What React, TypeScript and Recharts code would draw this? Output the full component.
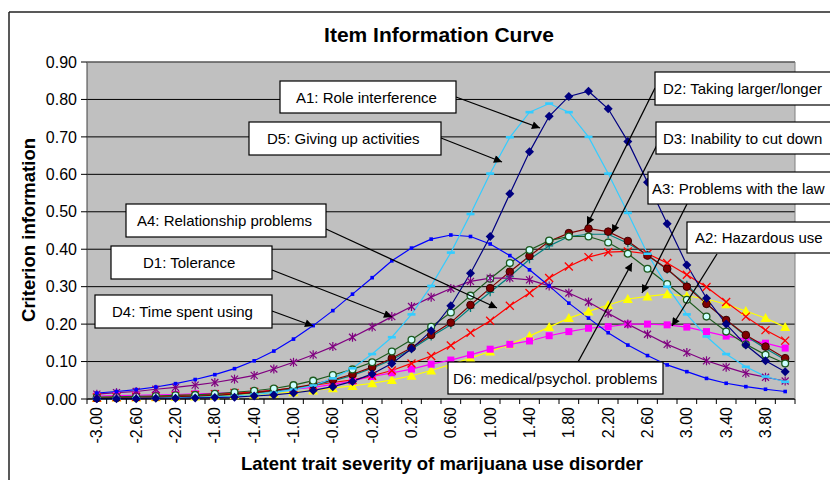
import React from "react";
import { LineChart, Line, XAxis, YAxis, CartesianGrid } from "recharts";

const FONT = "'Liberation Sans', Arial, Helvetica, sans-serif";

// latent trait categories (-3.0 .. 4.0, step 0.2)
const severity = [
  -3.0, -2.8, -2.6, -2.4, -2.2, -2.0, -1.8, -1.6, -1.4, -1.2, -1.0, -0.8,
  -0.6, -0.4, -0.2, 0.0, 0.2, 0.4, 0.6, 0.8, 1.0, 1.2, 1.4, 1.6,
  1.8, 2.0, 2.2, 2.4, 2.6, 2.8, 3.0, 3.2, 3.4, 3.6, 3.8, 4.0,
];

const yTicks = [0, 0.1, 0.2, 0.3, 0.4, 0.5, 0.6, 0.7, 0.8, 0.9];

// criterion information per item
const a1RoleInterference = [
  0.001, 0.001, 0.001, 0.002, 0.002, 0.003, 0.004, 0.005, 0.008, 0.011, 0.016, 0.023,
  0.033, 0.047, 0.067, 0.095, 0.134, 0.182, 0.249, 0.336, 0.434, 0.548, 0.66, 0.755,
  0.808, 0.822, 0.775, 0.688, 0.579, 0.468, 0.358, 0.269, 0.2, 0.144, 0.102, 0.073,
];
const d5GivingUp = [
  0.001, 0.001, 0.002, 0.002, 0.003, 0.004, 0.006, 0.008, 0.012, 0.017, 0.025, 0.036,
  0.055, 0.082, 0.12, 0.165, 0.226, 0.302, 0.391, 0.494, 0.602, 0.699, 0.766, 0.789,
  0.766, 0.7, 0.602, 0.497, 0.388, 0.3, 0.226, 0.167, 0.12, 0.086, 0.06, 0.046,
];
const d4TimeSpent = [
  0.016, 0.02, 0.025, 0.032, 0.041, 0.052, 0.065, 0.081, 0.102, 0.128, 0.16, 0.196,
  0.236, 0.28, 0.324, 0.369, 0.403, 0.427, 0.438, 0.434, 0.414, 0.383, 0.345, 0.302,
  0.256, 0.216, 0.177, 0.144, 0.116, 0.091, 0.073, 0.055, 0.042, 0.033, 0.026, 0.02,
];
const d1Tolerance = [
  0.013, 0.017, 0.02, 0.026, 0.031, 0.037, 0.044, 0.053, 0.063, 0.08, 0.098, 0.118,
  0.14, 0.165, 0.192, 0.22, 0.247, 0.272, 0.295, 0.314, 0.323, 0.323, 0.318, 0.302,
  0.283, 0.259, 0.229, 0.2, 0.173, 0.146, 0.124, 0.102, 0.085, 0.069, 0.058, 0.048,
];
const a4Relationship = [
  0.004, 0.005, 0.006, 0.007, 0.009, 0.011, 0.013, 0.016, 0.019, 0.023, 0.029, 0.036,
  0.044, 0.051, 0.062, 0.076, 0.095, 0.115, 0.143, 0.177, 0.209, 0.249, 0.283, 0.323,
  0.354, 0.379, 0.392, 0.394, 0.388, 0.363, 0.332, 0.299, 0.259, 0.22, 0.184, 0.156,
];
const a3Law = [
  0.003, 0.004, 0.004, 0.005, 0.006, 0.007, 0.009, 0.01, 0.012, 0.015, 0.018, 0.023,
  0.029, 0.035, 0.042, 0.051, 0.062, 0.076, 0.092, 0.109, 0.127, 0.146, 0.168, 0.192,
  0.216, 0.234, 0.251, 0.267, 0.274, 0.28, 0.275, 0.267, 0.253, 0.235, 0.216, 0.192,
];
const a2Hazardous = [
  0.008, 0.009, 0.01, 0.011, 0.012, 0.014, 0.015, 0.017, 0.019, 0.022, 0.026, 0.031,
  0.039, 0.048, 0.06, 0.07, 0.08, 0.093, 0.104, 0.118, 0.133, 0.146, 0.155, 0.169,
  0.18, 0.189, 0.193, 0.2, 0.2, 0.198, 0.192, 0.18, 0.168, 0.16, 0.149, 0.136,
];
const d2Larger = [
  0.002, 0.003, 0.004, 0.005, 0.006, 0.008, 0.01, 0.013, 0.017, 0.023, 0.03, 0.039,
  0.051, 0.066, 0.085, 0.109, 0.137, 0.171, 0.204, 0.251, 0.296, 0.34, 0.382, 0.421,
  0.443, 0.455, 0.447, 0.422, 0.383, 0.348, 0.3, 0.254, 0.211, 0.171, 0.14, 0.109,
];
const d3CutDown = [
  0.002, 0.003, 0.003, 0.004, 0.005, 0.007, 0.009, 0.012, 0.016, 0.021, 0.028, 0.037,
  0.048, 0.063, 0.082, 0.105, 0.133, 0.167, 0.198, 0.243, 0.285, 0.327, 0.373, 0.409,
  0.434, 0.44, 0.44, 0.416, 0.385, 0.345, 0.305, 0.254, 0.211, 0.168, 0.135, 0.105,
];
const d6Medical = [
  0.005, 0.006, 0.007, 0.008, 0.01, 0.011, 0.014, 0.018, 0.022, 0.028, 0.037, 0.049,
  0.064, 0.079, 0.098, 0.127, 0.158, 0.193, 0.231, 0.276, 0.321, 0.363, 0.398, 0.423,
  0.434, 0.434, 0.418, 0.388, 0.348, 0.307, 0.265, 0.22, 0.18, 0.146, 0.118, 0.095,
];

const data = severity.map((s, i) => ({
  x: s.toFixed(2),
  A1: a1RoleInterference[i],
  D5: d5GivingUp[i],
  D4: d4TimeSpent[i],
  D1: d1Tolerance[i],
  A4: a4Relationship[i],
  A3: a3Law[i],
  A2: a2Hazardous[i],
  D2: d2Larger[i],
  D3: d3CutDown[i],
  D6: d6Medical[i],
}));

// drawing order: first is bottom
const series = [
  { key: "A3", color: "#FFFF00", marker: "triangle" },
  { key: "A2", color: "#FF00FF", marker: "square" },
  { key: "A4", color: "#FF0000", marker: "x" },
  { key: "D3", color: "#008080", marker: "plus" },
  { key: "D2", color: "#800000", marker: "circle" },
  { key: "D6", color: "#1E5A1E", marker: "opencircle" },
  { key: "D1", color: "#800080", marker: "star" },
  { key: "D4", color: "#0000FF", marker: "smallsq" },
  { key: "D5", color: "#33CCFF", marker: "dash" },
  { key: "A1", color: "#000080", marker: "diamond" },
];

const notes = [
  { text: "A1: Role interference", box: [280, 81, 176, 32], tx: 296, from: [456, 97], to: [540, 128] },
  { text: "D5: Giving up activities", box: [249, 122, 192, 33], tx: 267, from: [441, 138], to: [502, 162] },
  { text: "A4: Relationship problems", box: [126, 204, 200, 33], tx: 137, from: [326, 229], to: [497, 308] },
  { text: "D1: Tolerance", box: [111, 246, 161, 33], tx: 143, from: [272, 270], to: [392, 317] },
  { text: "D4: Time spent using", box: [95, 295, 177, 33], tx: 112, from: [272, 311], to: [313, 326] },
  { text: "D2: Taking larger/longer", box: [655, 72, 185, 33], tx: 663, from: [655, 88], to: [587, 225] },
  { text: "D3: Inability to cut down", box: [656, 122, 185, 32], tx: 663, from: [657, 145], to: [612, 233] },
  { text: "A3: Problems with the law", box: [648, 172, 190, 32], tx: 652, from: [687, 204], to: [642, 293] },
  { text: "A2: Hazardous use", box: [687, 222, 150, 31], tx: 695, from: [717, 254], to: [672, 326] },
  { text: "D6: medical/psychol. problems", box: [448, 362, 215, 32], tx: 453, from: [578, 362], to: [632, 263] },
];

const W = 830;
const H = 480;
const M = { top: 62, right: 35, bottom: 0, left: 0 };
const Y_AXIS_W = 87;
const X_AXIS_H = 81;
const PLOT_L = M.left + Y_AXIS_W;
const PLOT_R = W - M.right;
const PLOT_T = M.top;
const PLOT_B = H - M.bottom - X_AXIS_H;
const BAND = (PLOT_R - PLOT_L) / severity.length;

const Marker = ({ cx, cy, shape, color }: any) => {
  if (cx == null || cy == null) return <g />;
  switch (shape) {
    case "diamond":
      return <polygon points={`${cx},${cy - 4.5} ${cx + 4.5},${cy} ${cx},${cy + 4.5} ${cx - 4.5},${cy}`} fill={color} />;
    case "dash":
      return <rect x={cx - 4} y={cy - 1.3} width={8} height={2.6} fill={color} />;
    case "smallsq":
      return <rect x={cx - 1.8} y={cy - 1.8} width={3.6} height={3.6} fill={color} />;
    case "star":
      return (
        <g stroke={color} strokeWidth={1.2}>
          <line x1={cx - 3.5} y1={cy - 3.5} x2={cx + 3.5} y2={cy + 3.5} />
          <line x1={cx - 3.5} y1={cy + 3.5} x2={cx + 3.5} y2={cy - 3.5} />
          <line x1={cx} y1={cy - 4.5} x2={cx} y2={cy + 4.5} />
        </g>
      );
    case "x":
      return (
        <g stroke={color} strokeWidth={1.3}>
          <line x1={cx - 4} y1={cy - 4} x2={cx + 4} y2={cy + 4} />
          <line x1={cx - 4} y1={cy + 4} x2={cx + 4} y2={cy - 4} />
        </g>
      );
    case "triangle":
      return <polygon points={`${cx},${cy - 5} ${cx + 5},${cy + 4} ${cx - 5},${cy + 4}`} fill={color} />;
    case "square":
      return <rect x={cx - 3.5} y={cy - 3.5} width={7} height={7} fill={color} />;
    case "circle":
      return <circle cx={cx} cy={cy} r={3.8} fill={color} stroke="#3A0000" strokeWidth={1} />;
    case "opencircle":
      return <circle cx={cx} cy={cy} r={3.4} fill="#CCFFFF" stroke={color} strokeWidth={1.3} />;
    case "plus":
      return (
        <g stroke={color} strokeWidth={1.3}>
          <line x1={cx - 4} y1={cy} x2={cx + 4} y2={cy} />
          <line x1={cx} y1={cy - 4} x2={cx} y2={cy + 4} />
        </g>
      );
    default:
      return <g />;
  }
};

const XTick = (props: any) => {
  const { payload } = props;
  const cx = payload?.coordinate ?? props.x;
  const i = props.index ?? payload?.index ?? 0;
  const left = cx - BAND / 2;
  return (
    <g>
      <line x1={left} y1={PLOT_B} x2={left} y2={PLOT_B + 5} stroke="#000" />
      {i === severity.length - 1 && (
        <line x1={cx + BAND / 2} y1={PLOT_B} x2={cx + BAND / 2} y2={PLOT_B + 5} stroke="#000" />
      )}
      {i % 2 === 0 && (
        <text
          x={cx}
          y={PLOT_B + 8}
          transform={`rotate(-90, ${cx}, ${PLOT_B + 8})`}
          textAnchor="end"
          dominantBaseline="central"
          fontSize={16}
          fontFamily={FONT}
          fill="#000"
        >
          {payload.value}
        </text>
      )}
    </g>
  );
};

export default function App() {
  return (
    <div style={{ position: "absolute", left: 0, top: 0, width: W, height: H, background: "#fff" }}>
      <LineChart width={W} height={H} data={data} margin={M} style={{ fontFamily: FONT }}>
        <CartesianGrid vertical={false} stroke="#000" fill="#C0C0C0" />
        <XAxis
          dataKey="x"
          type="category"
          interval={0}
          height={X_AXIS_H}
          padding={{ left: BAND / 2, right: BAND / 2 }}
          tickLine={false}
          tickSize={0}
          tickMargin={0}
          axisLine={{ stroke: "#000" }}
          tick={<XTick />}
        />
        <YAxis
          width={Y_AXIS_W}
          domain={[0, 0.9]}
          ticks={yTicks}
          tickFormatter={(v: number) => v.toFixed(2)}
          tickSize={6}
          tickMargin={4}
          tickLine={{ stroke: "#000" }}
          axisLine={{ stroke: "#404040" }}
          tick={{ fontSize: 16, fill: "#000", fontFamily: FONT }}
        />
        {series.map((s) => (
          <Line
            key={s.key}
            type="linear"
            dataKey={s.key}
            stroke={s.color}
            strokeWidth={1.2}
            isAnimationActive={false}
            activeDot={false}
            dot={(p: any) => <Marker key={`${s.key}-${p.index}`} cx={p.cx} cy={p.cy} shape={s.marker} color={s.color} />}
          />
        ))}
      </LineChart>

      <svg width={W} height={H} style={{ position: "absolute", left: 0, top: 0, pointerEvents: "none" }}>
        <defs>
          <marker id="head" viewBox="0 0 10 10" refX="10" refY="5" markerWidth="10" markerHeight="8" markerUnits="userSpaceOnUse" orient="auto">
            <path d="M0,0 L10,5 L0,10 z" fill="#000" />
          </marker>
        </defs>
        {/* chart frame */}
        <line x1={9} y1={12} x2={W} y2={12} stroke="#222" strokeWidth={1.5} />
        <line x1={9} y1={12} x2={9} y2={H} stroke="#222" strokeWidth={1.5} />
        {/* plot border top / right */}
        <line x1={PLOT_L} y1={PLOT_T} x2={PLOT_R} y2={PLOT_T} stroke="#808080" />
        <line x1={PLOT_R} y1={PLOT_T} x2={PLOT_R} y2={PLOT_B} stroke="#808080" />

        <text x={439} y={41.5} textAnchor="middle" fontSize={21} fontWeight="bold" fontFamily={FONT}>
          Item Information Curve
        </text>
        <text x={442} y={470} textAnchor="middle" fontSize={18.5} fontWeight="bold" fontFamily={FONT}>
          Latent trait severity of marijuana use disorder
        </text>
        <text
          x={28}
          y={230}
          transform="rotate(-90, 28, 230)"
          textAnchor="middle"
          dominantBaseline="central"
          fontSize={18.5}
          fontWeight="bold"
          fontFamily={FONT}
        >
          Criterion information
        </text>

        {notes.map((n) => (
          <g key={n.text}>
            <line x1={n.from[0]} y1={n.from[1]} x2={n.to[0]} y2={n.to[1]} stroke="#000" strokeWidth={1.3} markerEnd="url(#head)" />
          </g>
        ))}
        {notes.map((n) => (
          <g key={n.text + "-box"}>
            <rect x={n.box[0]} y={n.box[1]} width={n.box[2]} height={n.box[3]} fill="#fff" stroke="#000" strokeWidth={1.2} />
            <text x={n.tx} y={n.box[1] + n.box[3] / 2} dominantBaseline="central" fontSize={15} fontFamily={FONT} fill="#000">
              {n.text}
            </text>
          </g>
        ))}
      </svg>
    </div>
  );
}
